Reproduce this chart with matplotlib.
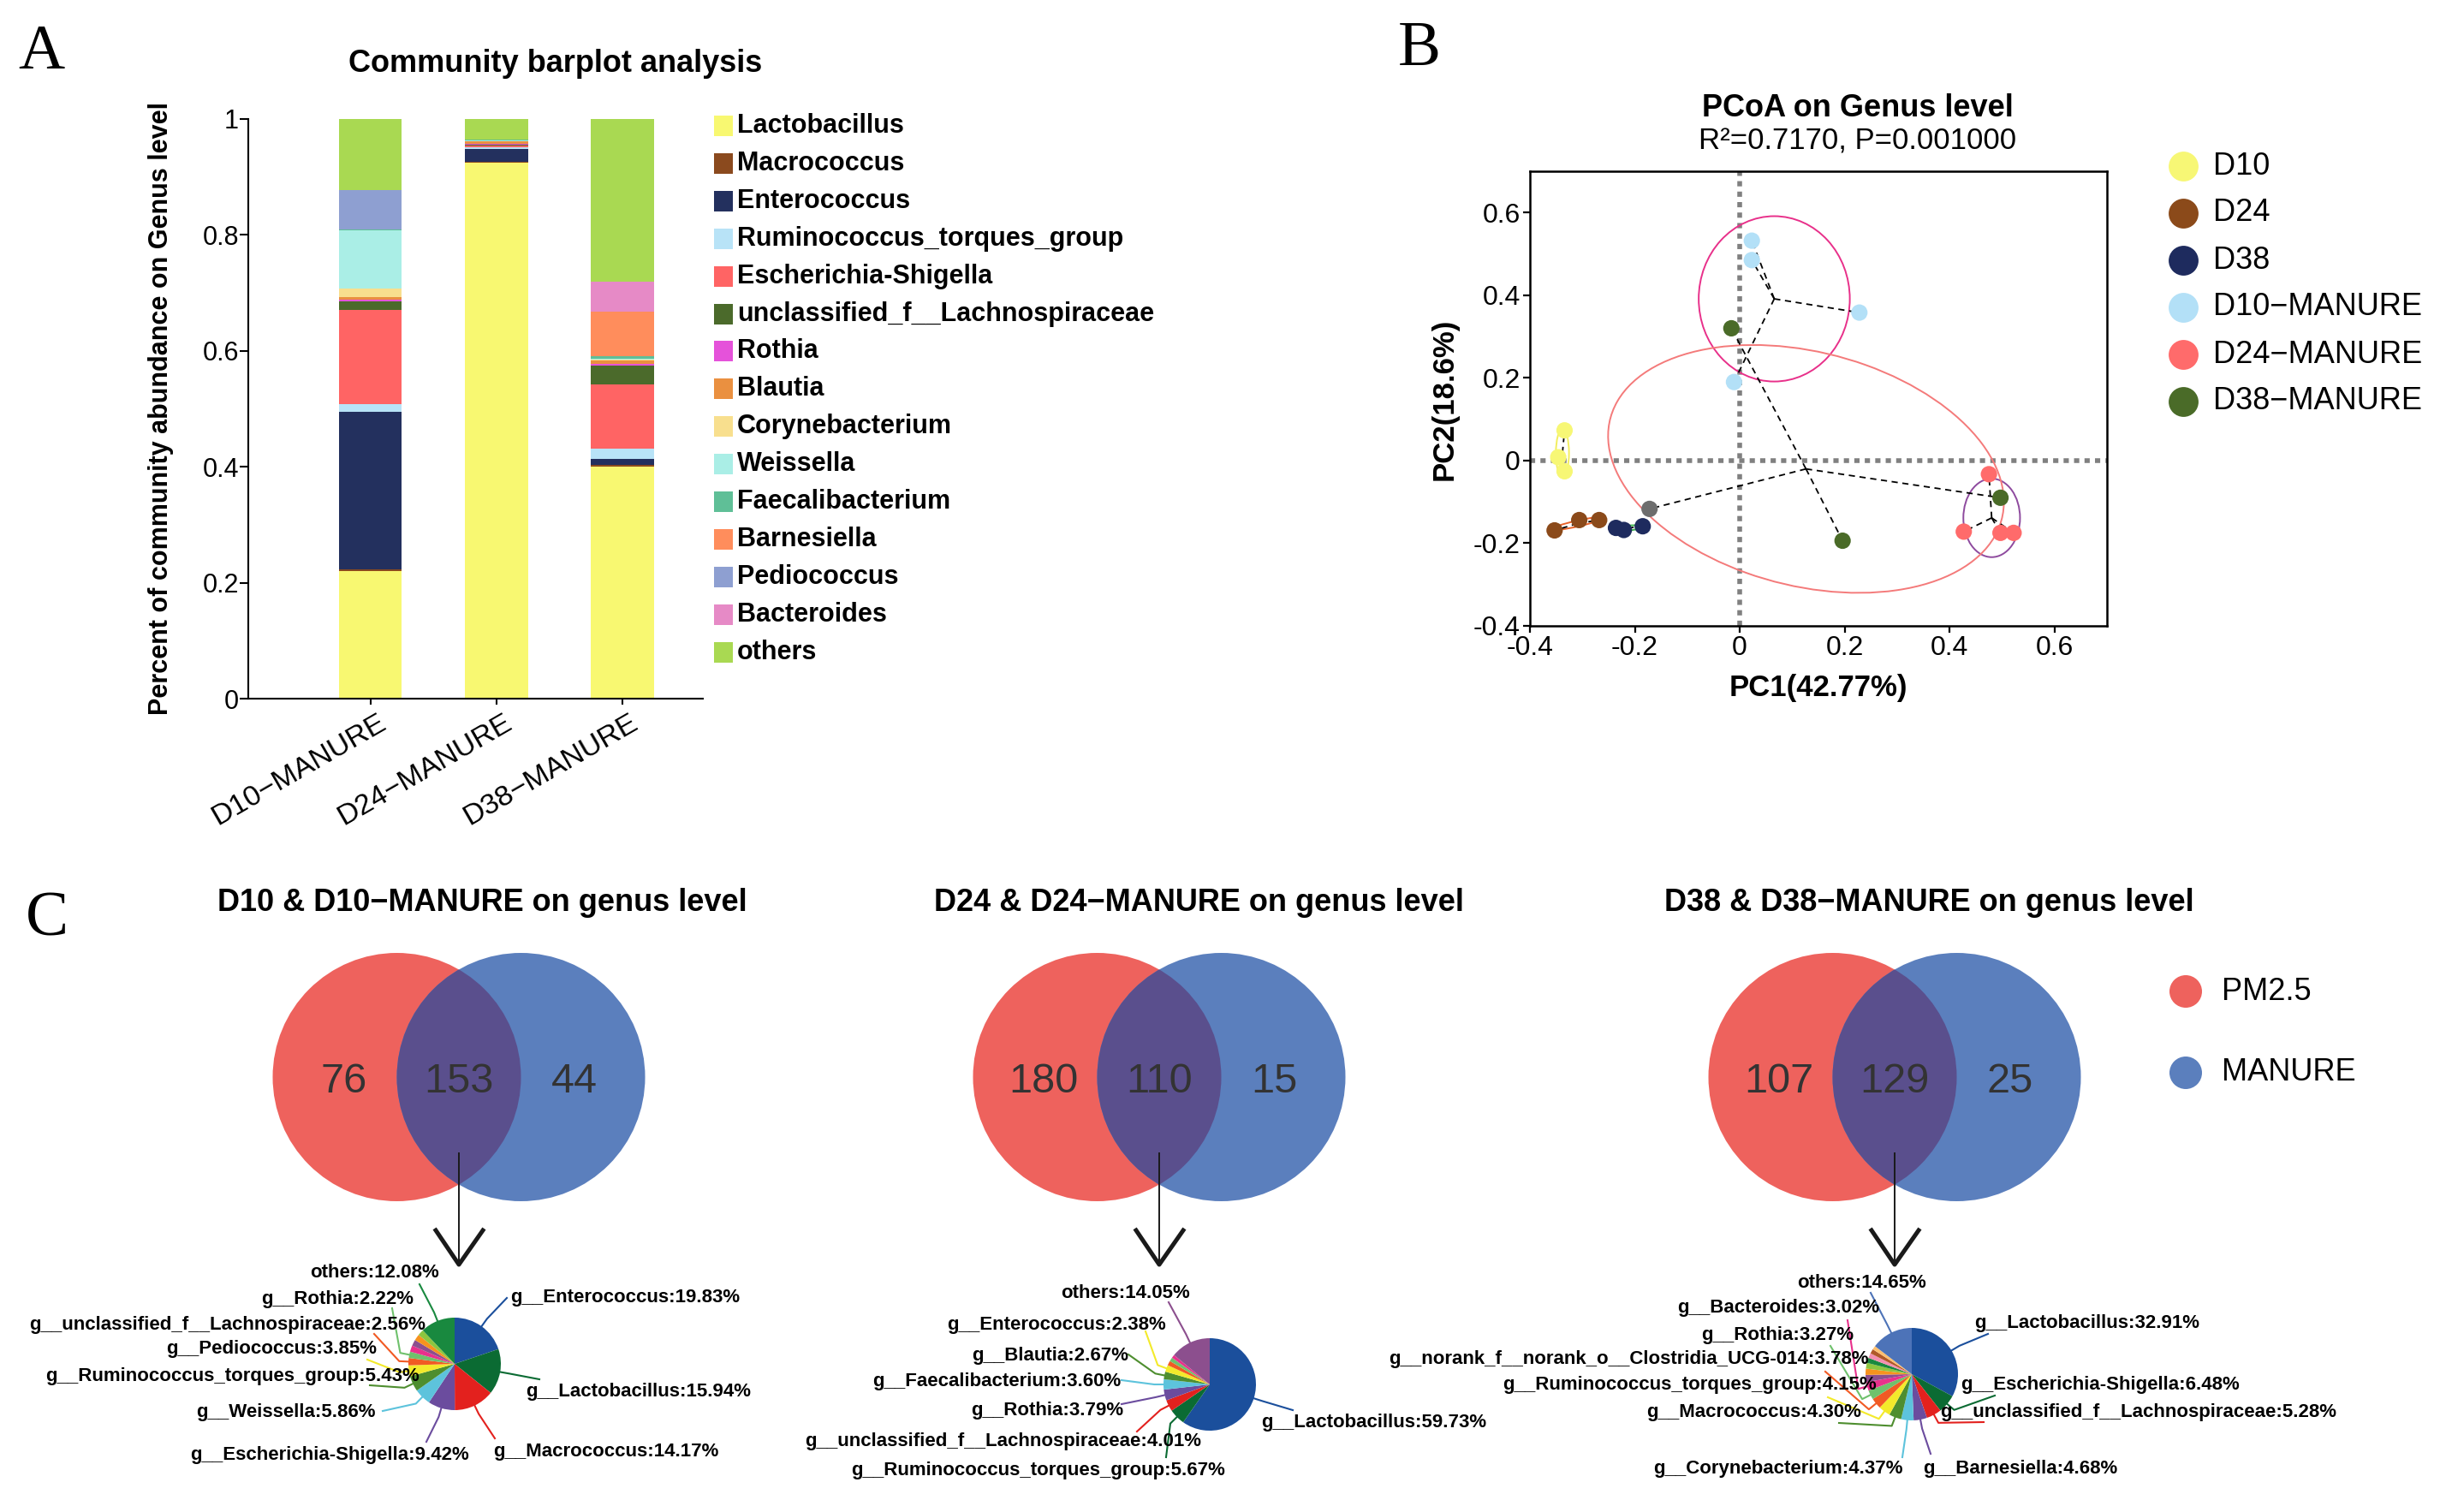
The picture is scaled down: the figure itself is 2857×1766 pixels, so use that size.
import numpy as np
import matplotlib
matplotlib.use("Agg")
import matplotlib.pyplot as plt
import matplotlib.transforms as mtransforms
from matplotlib.patches import Ellipse, Circle, Rectangle
from matplotlib.ticker import FuncFormatter

plt.rcParams['font.family'] = ['Liberation Sans', 'DejaVu Sans']
plt.rcParams['axes.unicode_minus'] = False

W, H = 2857, 1766

# ---------------- A: community barplot ----------------
samples = ["D10−MANURE", "D24−MANURE", "D38−MANURE"]
genera = ["Lactobacillus", "Macrococcus", "Enterococcus", "Ruminococcus_torques_group",
          "Escherichia-Shigella", "unclassified_f__Lachnospiraceae", "Rothia", "Blautia",
          "Corynebacterium", "Weissella", "Faecalibacterium", "Barnesiella",
          "Pediococcus", "Bacteroides", "others"]
abund_d10 = [0.220, 0.003, 0.272, 0.013, 0.162, 0.015, 0.003, 0.005, 0.015, 0.100, 0.002, 0.000, 0.068, 0.000, 0.122]
abund_d24 = [0.925, 0.001, 0.022, 0.003, 0.003, 0.002, 0.001, 0.004, 0.001, 0.001, 0.001, 0.001, 0.000, 0.000, 0.035]
abund_d38 = [0.400, 0.003, 0.010, 0.019, 0.110, 0.032, 0.003, 0.006, 0.002, 0.002, 0.004, 0.076, 0.000, 0.052, 0.281]
genus_colors = ["#F8F871", "#8B4A1E", "#23305E", "#B8E3F7", "#FF6464", "#4B6A2B", "#E552DA",
                "#EA9040", "#F8DF8E", "#AAEEE6", "#5FBF97", "#FF8D5C", "#8E9FD1", "#E68AC6", "#A9D952"]

# ---------------- B: PCoA ----------------
pcoa_groups = ["D10", "D24", "D38", "D10−MANURE", "D24−MANURE", "D38−MANURE"]
pc1_d10 = [-0.334, -0.346, -0.334]
pc2_d10 = [0.073, 0.008, -0.026]
pc1_d24 = [-0.353, -0.306, -0.268]
pc2_d24 = [-0.169, -0.144, -0.144]
pc1_d38 = [-0.236, -0.221, -0.185]
pc2_d38 = [-0.163, -0.168, -0.159]
pc1_d10m = [0.023, 0.023, 0.228, -0.011]
pc2_d10m = [0.532, 0.485, 0.358, 0.190]
pc1_d24m = [0.475, 0.427, 0.497, 0.522]
pc2_d24m = [-0.033, -0.172, -0.175, -0.175]
pc1_d38m = [-0.016, 0.497, 0.196, -0.172]
pc2_d38m = [0.320, -0.090, -0.194, -0.117]
pcoa_colors = ["#F7F775", "#8B4A1A", "#1E2B5E", "#B3E0F7", "#FF6B6B", "#4A6B28"]

# ---------------- C: venn + pies ----------------
venn_titles = ["D10 & D10−MANURE on genus level", "D24 & D24−MANURE on genus level",
               "D38 & D38−MANURE on genus level"]
venn_pm_only = [76, 180, 107]
venn_shared = [153, 110, 129]
venn_manure_only = [44, 15, 25]

pie1_names = ["g__Enterococcus", "g__Lactobacillus", "g__Macrococcus", "g__Escherichia-Shigella",
              "g__Weissella", "g__Ruminococcus_torques_group", "g__Pediococcus",
              "g__unclassified_f__Lachnospiraceae", "g__Rothia"]
pie1_pct = [19.83, 15.94, 14.17, 9.42, 5.86, 5.43, 3.85, 2.56, 2.22]
pie1_minor = [2.20, 2.16, 2.14, 2.14]
pie1_others = 12.08

pie2_names = ["g__Lactobacillus", "g__Ruminococcus_torques_group", "g__unclassified_f__Lachnospiraceae",
              "g__Rothia", "g__Faecalibacterium", "g__Blautia", "g__Enterococcus"]
pie2_pct = [59.73, 5.67, 4.01, 3.79, 3.60, 2.67, 2.38]
pie2_minor = [1.60, 1.35, 1.15]
pie2_others = 14.05

pie3_names = ["g__Lactobacillus", "g__Escherichia-Shigella", "g__unclassified_f__Lachnospiraceae",
              "g__Barnesiella", "g__Corynebacterium", "g__Macrococcus", "g__Ruminococcus_torques_group",
              "g__norank_f__norank_o__Clostridia_UCG-014", "g__Rothia", "g__Bacteroides"]
pie3_pct = [32.91, 6.48, 5.28, 4.68, 4.37, 4.30, 4.15, 3.78, 3.27, 3.02]
pie3_minor = [2.50, 2.20, 2.00, 1.80, 1.70, 1.60, 1.31]
pie3_others = 14.65

pie_palette = ["#1B4F9C", "#0B6B33", "#E3211E", "#6B4C9E", "#5DC3DC", "#4E8E2F", "#F3EA2B",
               "#F15A24", "#6FC16C", "#E8318C", "#8C4F8E", "#F7931E", "#8DC63F", "#19893F",
               "#F48FB1", "#B15928", "#FDBF6F", "#4D73B8"]

# label layout in pixels: (text x, text y, ha, line end x, line end y); last one is "others"
pie1_layout = [(596, 1515, 'left', 592, 1516), (614, 1626, 'left', 630, 1611),
               (576, 1695, 'left', 578, 1680), (548, 1700, 'right', 498, 1684),
               (439, 1650, 'right', 447, 1648), (490, 1607, 'right', 432, 1618),
               (440, 1576, 'right', 429, 1588), (497, 1547, 'right', 437, 1558),
               (483, 1517, 'right', 458, 1528), (513, 1487, 'right', 490, 1500)]
pie2_layout = [(1473, 1661, 'left', 1510, 1647), (1431, 1717, 'right', 1362, 1702),
               (1403, 1683, 'right', 1328, 1672), (1312, 1647, 'right', 1310, 1640),
               (1309, 1614, 'right', 1310, 1612), (1318, 1583, 'right', 1318, 1582),
               (1362, 1548, 'right', 1338, 1555), (1390, 1510, 'right', 1365, 1521)]
pie3_layout = [(2306, 1546, 'left', 2322, 1558), (2290, 1617, 'left', 2330, 1630),
               (2266, 1649, 'left', 2317, 1661), (2246, 1715, 'left', 2255, 1698),
               (2223, 1715, 'right', 2222, 1702), (2174, 1649, 'right', 2148, 1662),
               (2192, 1618, 'right', 2135, 1632), (2183, 1588, 'right', 2132, 1602),
               (2165, 1559, 'right', 2138, 1572), (2195, 1528, 'right', 2158, 1542),
               (2250, 1499, 'right', 2185, 1510)]


def px_axes(x0, y0, x1, y1, **kw):
    return fig.add_axes([x0 / W, 1 - y1 / H, (x1 - x0) / W, (y1 - y0) / H], **kw)


fig = plt.figure(figsize=(W / 100, H / 100), dpi=100)

# overlay in pixel coordinates for texts, legends and venns
ov = fig.add_axes([0, 0, 1, 1])
ov.set_xlim(0, W)
ov.set_ylim(H, 0)
ov.axis('off')
ov.patch.set_visible(False)

serif = dict(family=['Liberation Serif', 'DejaVu Serif'], fontsize=54)
ov.text(48, 62, "A", ha='center', va='center', **serif)
ov.text(1658, 58, "B", ha='center', va='center', **serif)
ov.text(55, 1075, "C", ha='center', va='center', **serif)

# ---- A
axA = px_axes(290, 139, 821, 816)
xpos = np.arange(len(samples))
stack = np.array([abund_d10, abund_d24, abund_d38])
bottom = np.zeros(len(samples))
for i, g in enumerate(genera):
    axA.bar(xpos, stack[:, i], 0.5, bottom=bottom, color=genus_colors[i], linewidth=0)
    bottom += stack[:, i]
axA.set_xlim(-0.97, 2.64)
axA.set_ylim(0, 1)
axA.set_yticks([0, 0.2, 0.4, 0.6, 0.8, 1.0])
axA.yaxis.set_major_formatter(FuncFormatter(lambda v, p: f"{v:g}"))
axA.spines[['top', 'right']].set_visible(False)
for s in ['left', 'bottom']:
    axA.spines[s].set_linewidth(1.5)
axA.tick_params(axis='y', length=7, width=1.5, pad=1, labelsize=22)
axA.tick_params(axis='x', length=5, width=1.5, pad=4, labelsize=24.5)
axA.set_xticks(xpos)
axA.set_xticklabels(samples, rotation=30, ha='right', va='top', rotation_mode='anchor')
shift = mtransforms.ScaledTranslation(0.08, 0, fig.dpi_scale_trans)
for lab in axA.get_xticklabels():
    lab.set_transform(lab.get_transform() + shift)
ov.text(649, 74, "Community barplot analysis", ha='center', va='center', fontsize=26, fontweight='bold')
ov.text(188, 477, "Percent of community abundance on Genus level", rotation=90,
        ha='center', va='center', fontsize=22, fontweight='bold')
for i, g in enumerate(genera):
    y = 147 + 43.9 * i
    ov.add_patch(Rectangle((834, y - 12), 22, 24, color=genus_colors[i], linewidth=0))
    ov.text(861, y, g, ha='left', va='center', fontsize=22, fontweight='bold')

# ---- B
axB = px_axes(1787, 200, 2461, 731)
axB.axhline(0, color='#808080', lw=4, ls=(0, (1.1, 1.1)), zorder=1)
axB.axvline(0, color='#808080', lw=4, ls=(0, (1.1, 1.1)), zorder=1)
pc1_all = [pc1_d10, pc1_d24, pc1_d38, pc1_d10m, pc1_d24m, pc1_d38m]
pc2_all = [pc2_d10, pc2_d24, pc2_d38, pc2_d10m, pc2_d24m, pc2_d38m]
# ellipse shape (width, height, angle, edge colour) around each group centroid
ell_style = [(0.025, 0.115, 0, "#F2EE5E"), (0.105, 0.014, 16, "#E8632B"), (0.06, 0.012, 6, "#3CB44B"),
             (0.288, 0.400, 0, "#E8308A"), (0.108, 0.190, 0, "#8E4A9E"), (0.79, 0.552, -24.5, "#F47A7A")]
for k in range(len(pcoa_groups)):
    xs, ys = np.array(pc1_all[k]), np.array(pc2_all[k])
    cx, cy = xs.mean(), ys.mean()
    w, h, ang, ec = ell_style[k]
    axB.add_patch(Ellipse((cx, cy), w, h, angle=ang, fill=False, ec=ec, lw=1.4, zorder=2))
    for x, y in zip(xs, ys):
        axB.plot([cx, x], [cy, y], color='k', lw=1.3, ls=(0, (4, 3)), zorder=3)
for k in range(len(pcoa_groups)):
    cols = [pcoa_colors[k]] * len(pc1_all[k])
    if k == 5:
        cols[3] = "#6D6D6D"
    axB.scatter(pc1_all[k], pc2_all[k], s=190, c=cols, linewidths=0, zorder=4)
axB.set_xlim(-0.4, 0.7)
axB.set_ylim(-0.4, 0.7)
axB.set_xticks([-0.4, -0.2, 0, 0.2, 0.4, 0.6])
axB.set_yticks([-0.4, -0.2, 0, 0.2, 0.4, 0.6])
fmt = FuncFormatter(lambda v, p: f"{v:g}")
axB.xaxis.set_major_formatter(fmt)
axB.yaxis.set_major_formatter(fmt)
for s in axB.spines.values():
    s.set_linewidth(1.8)
axB.tick_params(length=6, width=1.6, pad=2, labelsize=23)
ov.text(2170, 127, "PCoA on Genus level", ha='center', va='center', fontsize=26, fontweight='bold')
ov.text(2170, 165, "R²=0.7170, P=0.001000", ha='center', va='center', fontsize=25)
ov.text(2124, 804, "PC1(42.77%)", ha='center', va='center', fontsize=25, fontweight='bold')
ov.text(1687, 466, "PC2(18.6%)", ha='center', va='center', rotation=90, fontsize=25, fontweight='bold')
for k, g in enumerate(pcoa_groups):
    y = 194 + 55 * k
    ov.scatter([2550], [y], s=630, color=pcoa_colors[k], linewidths=0)
    ov.text(2585, y, g, ha='left', va='center', fontsize=26)

# ---- C venns
venn_mid = [536, 1354, 2213]
title_x = [563, 1400, 2253]
vr, vy = 145, 1258
red, blue, purple = "#EE625D", "#5B7FBD", "#5A4F8D"
for k in range(3):
    m = venn_mid[k]
    cr = Circle((m - vr / 2, vy), vr, color=red, lw=0)
    cb = Circle((m + vr / 2, vy), vr, color=blue, lw=0)
    ov.add_patch(cr)
    ov.add_patch(cb)
    lens = Circle((m + vr / 2, vy), vr, color=purple, lw=0)
    ov.add_patch(lens)
    lens.set_clip_path(cr)
    ov.text(m - vr / 2 - 0.43 * vr, vy + 5, str(venn_pm_only[k]), ha='center', va='center', fontsize=35, color='#333333')
    ov.text(m, vy + 5, str(venn_shared[k]), ha='center', va='center', fontsize=35, color='#333333')
    ov.text(m + vr / 2 + 0.43 * vr, vy + 5, str(venn_manure_only[k]), ha='center', va='center', fontsize=35, color='#333333')
    ov.text(title_x[k], 1055, venn_titles[k], ha='center', va='center', fontsize=26, fontweight='bold')
    ov.plot([m, m], [1347, 1474], color='#1a1a1a', lw=1.4)
    ov.plot([m - 27, m, m + 28], [1437, 1477, 1437], color='#1a1a1a', lw=3.6)

ov.add_patch(Circle((2553, 1158), 19, color=red, lw=0))
ov.add_patch(Circle((2553, 1253), 19, color=blue, lw=0))
ov.text(2595, 1158, "PM2.5", ha='left', va='center', fontsize=26)
ov.text(2595, 1253, "MANURE", ha='left', va='center', fontsize=26)

# ---- C pies
pies = [(pie1_names, pie1_pct, pie1_minor, pie1_others, pie1_layout, (531, 1593)),
        (pie2_names, pie2_pct, pie2_minor, pie2_others, pie2_layout, (1413, 1617)),
        (pie3_names, pie3_pct, pie3_minor, pie3_others, pie3_layout, (2233, 1605))]
pr = 54
for names, pct, minor, others, layout, (pcx, pcy) in pies:
    vals = np.array(pct + minor + [others])
    cols = pie_palette[:len(vals)]
    axp = px_axes(pcx - pr, pcy - pr, pcx + pr, pcy + pr)
    axp.pie(vals, colors=cols, startangle=90, counterclock=False, radius=1,
            wedgeprops=dict(linewidth=0))
    axp.set_xlim(-1, 1)
    axp.set_ylim(-1, 1)
    cum = np.cumsum(vals)
    mids = np.deg2rad((cum - vals / 2) / 100 * 360)
    labels = [f"{n}:{v:.2f}%" for n, v in zip(names, pct)] + [f"others:{others:.2f}%"]
    idx = list(range(len(pct))) + [len(vals) - 1]
    for lab, j, (tx, ty, ha, ex, ey) in zip(labels, idx, layout):
        t = mids[j]
        rx, ry = pcx + 0.97 * pr * np.sin(t), pcy - 0.97 * pr * np.cos(t)
        bx, by = pcx + 1.2 * pr * np.sin(t), pcy - 1.2 * pr * np.cos(t)
        axp.plot([rx, bx, ex], [ry, by, ey], color=cols[j], lw=1.5,
                 transform=ov.transData, clip_on=False, zorder=0.5)
        axp.text(tx, ty, lab, ha=ha, va='center', fontsize=16, fontweight='bold',
                 transform=ov.transData, clip_on=False, zorder=5)

fig.savefig("out.png", dpi=100, facecolor='white')
